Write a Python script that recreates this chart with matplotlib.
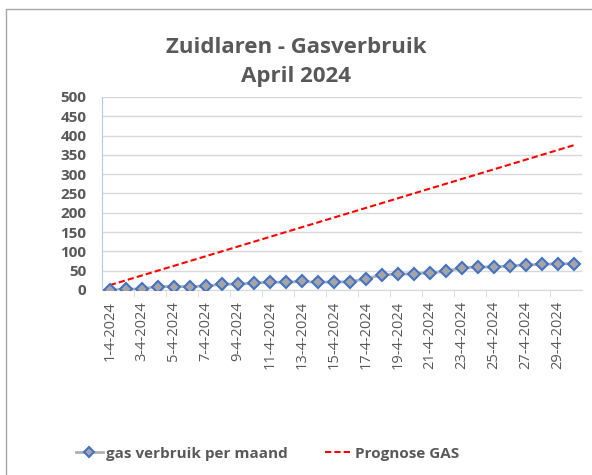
import matplotlib.pyplot as plt
from matplotlib.patches import Rectangle

dates = ['%d-4-2024' % d for d in range(1, 31)]
gas_verbruik = [0, 2, 3, 9, 9, 9, 10, 15, 15, 18, 20, 20, 22, 20, 21,
                21, 29, 39, 41, 42, 45, 48, 58, 59, 60, 62, 65, 66, 68, 68]
prognose = [12.5, 25, 37.5, 50, 62.5, 75, 87.5, 100, 112.5, 125,
            137.5, 150, 162.5, 175, 187.5, 200, 212.5, 225, 237.5, 250,
            262.5, 275, 287.5, 300, 312.5, 325, 337.5, 350, 362.5, 375]
yticks = list(range(0, 501, 50))

plt.rcParams['font.family'] = ['Open Sans', 'DejaVu Sans']
txt = '#595959'

fig = plt.figure(figsize=(5.92, 4.75), dpi=100)
ax = fig.add_axes([0.172, 0.3895, 0.811, 0.4065])

x = list(range(len(dates)))
A, = ax.plot(x, gas_verbruik, color='#b0b0b0', lw=2, marker='D', ms=6.5,
             mfc='#a5a5a5', mec='#4472c4', mew=1.5, label='gas verbruik per maand', zorder=3)
B, = ax.plot(x, prognose, color='#ff0000', lw=1.5, ls=(0, (3, 1.5)),
             label='Prognose GAS', zorder=2)

ax.set_xlim(-0.5, 29.5)
ax.set_ylim(0, 500)
ax.set_yticks(yticks)
ax.set_yticklabels([str(v) for v in yticks], fontweight='bold', fontsize=11, color=txt)
ax.grid(axis='y', color='#d9d9d9', lw=1)
ax.set_axisbelow(True)
for s in ['top', 'right']:
    ax.spines[s].set_visible(False)
ax.spines['left'].set_color('#b4c7e7')
ax.spines['bottom'].set_color('#d9d9d9')

ax.set_xticks(x[::2])
ax.set_xticklabels(dates[::2], rotation=90, fontsize=10.5, color=txt)
ax.set_xticks([i + 0.5 for i in range(1, 29, 2)], minor=True)
ax.tick_params(axis='x', which='major', length=0, pad=8)
ax.tick_params(axis='x', which='minor', length=5, color='#d9d9d9')
ax.tick_params(axis='y', length=0, pad=11)

fig.text(0.5, 0.922, 'Zuidlaren - Gasverbruik\nApril 2024', ha='center', va='top',
         fontsize=16, fontweight='bold', color=txt, linespacing=1.5)

fig.legend(handles=[A, B], loc='center', bbox_to_anchor=(0.452, 0.045), ncol=2,
           frameon=False, prop={'weight': 'bold', 'size': 11}, labelcolor=txt,
           handlelength=1.8, handletextpad=0.2, columnspacing=2.4, markerscale=0.8)

fig.patches.append(Rectangle((6 / 592, -0.1), 1.2, 1 - 9 / 475 + 0.1,
                             transform=fig.transFigure, fill=False,
                             edgecolor='#a6a6a6', lw=1))

fig.savefig('out.png', dpi=100)
